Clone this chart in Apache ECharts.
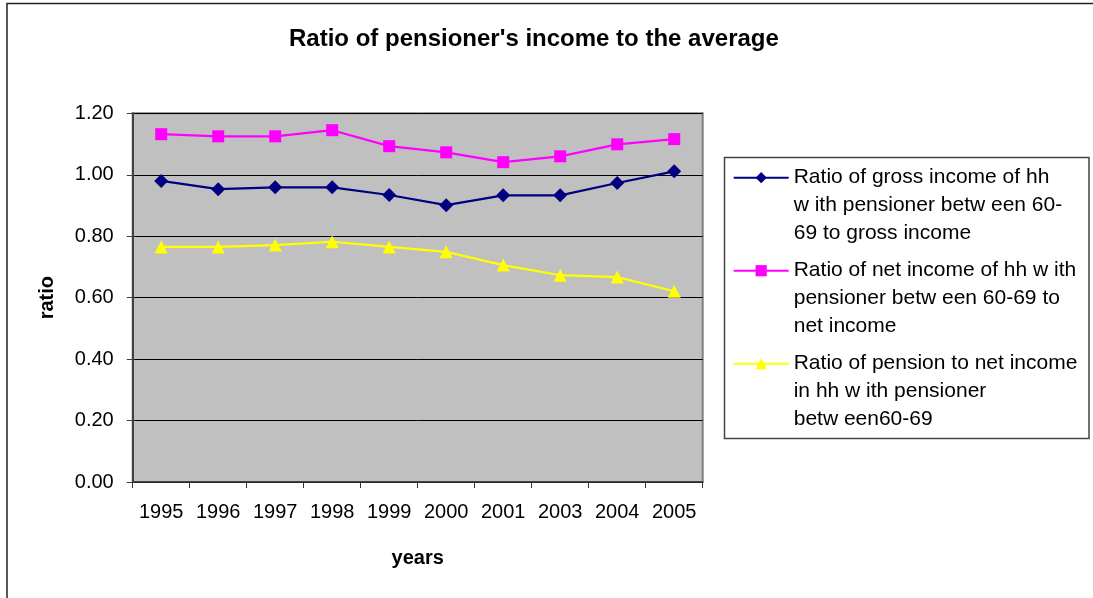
<!DOCTYPE html>
<html>
<head>
<meta charset="utf-8">
<title>Ratio of pensioner's income to the average</title>
<script src="https://cdn.jsdelivr.net/npm/echarts@6/dist/echarts.min.js"></script>
<style>
  html, body { margin: 0; padding: 0; background: #ffffff; }
  #chart { width: 1093px; height: 598px; }
</style>
</head>
<body>
<div id="chart"></div>
<script>
// Survey years (2002 is not in the series)
const years = ['1995', '1996', '1997', '1998', '1999', '2000', '2001', '2003', '2004', '2005'];

// Ratio of gross income of households with a pensioner aged 60-69 to gross income
const grossRatio = [0.980, 0.953, 0.959, 0.959, 0.934, 0.901, 0.933, 0.933, 0.973, 1.011];
// Ratio of net income of households with a pensioner aged 60-69 to net income
const netRatio = [1.132, 1.125, 1.125, 1.145, 1.093, 1.073, 1.041, 1.060, 1.099, 1.116];
// Ratio of pension to net income in households with a pensioner aged 60-69
const pensionRatio = [0.765, 0.765, 0.771, 0.782, 0.765, 0.749, 0.706, 0.673, 0.667, 0.621];

const seriesNames = [
  'Ratio of gross income of hh\nw ith pensioner betw een 60-\n69 to gross income',
  'Ratio of net income of hh w ith\npensioner betw een 60-69 to\nnet income',
  'Ratio of pension to net income\nin hh w ith pensioner\nbetw een60-69'
];

const FONT = "'Liberation Sans', Arial, Helvetica, sans-serif";

const chart = echarts.init(document.getElementById('chart'), null, { renderer: 'canvas' });

function lineSeries(name, data, color, symbol, size) {
  return {
    name: name,
    type: 'line',
    data: data,
    symbol: symbol,
    symbolSize: size,
    showSymbol: true,
    animation: false,
    lineStyle: { color: color, width: 2.2 },
    itemStyle: { color: color, borderWidth: 0 },
    emphasis: { disabled: true }
  };
}

chart.setOption({
  backgroundColor: '#ffffff',
  animation: false,
  textStyle: { fontFamily: FONT },
  title: {
    text: "Ratio of pensioner's income to the average",
    left: 284,
    top: 22,
    textStyle: { fontFamily: FONT, fontSize: 24, fontWeight: 'bold', color: '#000000' }
  },
  grid: {
    left: 132.7,
    right: 390.3,
    top: 113.3,
    bottom: 116,
    show: true,
    backgroundColor: '#c0c0c0',
    borderColor: '#808080',
    borderWidth: 2
  },
  legend: {
    orient: 'vertical',
    left: 732.7,
    top: 107.7,
    padding: 0,
    itemWidth: 55,
    itemHeight: 14,
    itemGap: -47,
    selectedMode: false,
    data: seriesNames,
    // two leading empty lines put the first text line level with the icon
    formatter: function (name) { return '\n\n' + name; },
    textStyle: {
      fontFamily: FONT,
      fontSize: 21,
      lineHeight: 28,
      color: '#000000'
    }
  },
  xAxis: {
    type: 'category',
    data: years,
    boundaryGap: true,
    name: 'years',
    nameLocation: 'middle',
    nameGap: 66,
    nameTextStyle: { fontFamily: FONT, fontSize: 20, fontWeight: 'bold', color: '#000000' },
    axisLine: { show: true, lineStyle: { color: '#333333', width: 1.5 } },
    axisTick: { show: true, inside: false, length: 6, alignWithLabel: false, lineStyle: { color: '#333333' } },
    axisLabel: { fontFamily: FONT, fontSize: 20, color: '#000000', margin: 20, interval: 0 },
    splitLine: { show: false }
  },
  yAxis: {
    type: 'value',
    min: 0,
    max: 1.2,
    interval: 0.2,
    name: 'ratio',
    nameLocation: 'middle',
    nameGap: 75,
    nameTextStyle: { fontFamily: FONT, fontSize: 20, fontWeight: 'bold', color: '#000000' },
    axisLine: { show: true, lineStyle: { color: '#404040', width: 2 } },
    axisTick: { show: true, inside: false, length: 6, lineStyle: { color: '#404040' } },
    axisLabel: {
      fontFamily: FONT, fontSize: 20, color: '#000000', margin: 19,
      formatter: function (v) { return v.toFixed(2); }
    },
    splitLine: { show: true, lineStyle: { color: '#000000', width: 1 } }
  },
  graphic: [
    {
      // outer chart frame
      type: 'rect',
      silent: true,
      z: -1,
      shape: { x: 7, y: 3.5, width: 1100, height: 610 },
      style: { fill: null, stroke: '#222222', lineWidth: 1.5 }
    },
    {
      // legend frame
      type: 'rect',
      silent: true,
      shape: { x: 724.5, y: 157.5, width: 364.5, height: 281 },
      style: { fill: null, stroke: '#444444', lineWidth: 1.5 }
    }
  ],
  series: [
    lineSeries(seriesNames[0], grossRatio, '#000080', 'diamond', 14),
    lineSeries(seriesNames[1], netRatio, '#ff00ff', 'rect', 12),
    lineSeries(seriesNames[2], pensionRatio, '#ffff00', 'triangle', 13)
  ]
});
</script>
</body>
</html>
